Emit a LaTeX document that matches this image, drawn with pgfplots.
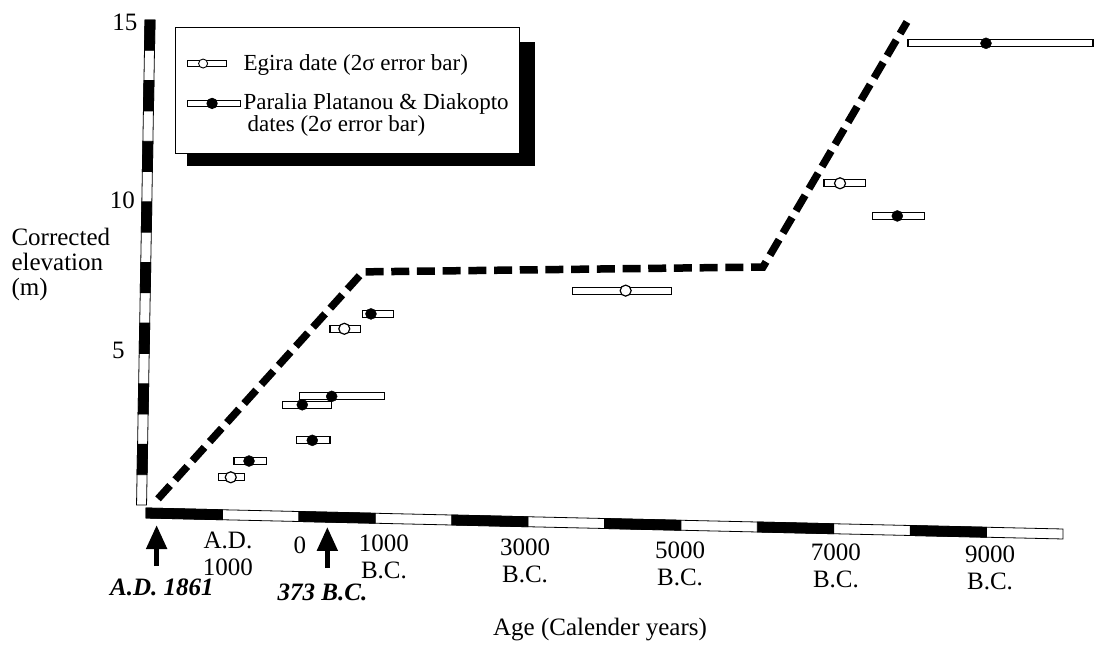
\documentclass[border=0pt]{standalone}
\usepackage{pgfplots}
\pgfplotsset{compat=1.18}
\usepackage{fontspec}
\setmainfont{Liberation Serif}
\usetikzlibrary{arrows.meta}
\newcommand{\lbl}{\fontsize{25}{27}\selectfont}
\newcommand{\ylb}{\fontsize{25}{25}\selectfont}
\newcommand{\lgd}{\fontsize{23}{19}\selectfont}
\begin{document}
\begin{tikzpicture}
\begin{axis}[
  scale only axis, width=955.2pt, height=507.63pt,
  at={(138.36pt,123.83pt)}, anchor=south west,
  xmin=-2100, xmax=10400, ymin=-0.5, ymax=15.2,
  hide axis, clip=false,
  legend cell align=left,
  legend style={at={(0.0384,0.9736)}, anchor=north west, draw=black, line width=1.2pt,
    fill=white, inner xsep=11pt, inner ysep=21pt, row sep=21pt, column sep=3pt,
    font=\lgd, cells={anchor=west}, nodes={inner sep=0pt, align=left}},
]
% ---- legend shadow (solid black box offset behind the legend)
\fill[black] (rel axis cs:0.0509,0.9440) rectangle (rel axis cs:0.4152,0.6997);
% ---- y-axis bar (alternating segments, slightly tilted as in the scan)
\addplot[forget plot, draw=black, fill=white, line width=0.8pt] coordinates {(-2013,15) (-1882,15) (-1993,0) (-2124,0)} -- cycle;
\addplot[forget plot, draw=black, fill=black, line width=0.8pt] coordinates {(-2019.9,14.0625) (-1888.9,14.0625) (-1882,15) (-2013,15)} -- cycle;
\addplot[forget plot, draw=black, fill=black, line width=0.8pt] coordinates {(-2033.8,12.1875) (-1902.8,12.1875) (-1895.9,13.125) (-2026.9,13.125)} -- cycle;
\addplot[forget plot, draw=black, fill=black, line width=0.8pt] coordinates {(-2047.7,10.3125) (-1916.7,10.3125) (-1909.75,11.25) (-2040.75,11.25)} -- cycle;
\addplot[forget plot, draw=black, fill=black, line width=0.8pt] coordinates {(-2061.6,8.4375) (-1930.6,8.4375) (-1923.6,9.375) (-2054.6,9.375)} -- cycle;
\addplot[forget plot, draw=black, fill=black, line width=0.8pt] coordinates {(-2075.4,6.5625) (-1944.4,6.5625) (-1937.5,7.5) (-2068.5,7.5)} -- cycle;
\addplot[forget plot, draw=black, fill=black, line width=0.8pt] coordinates {(-2089.3,4.6875) (-1958.3,4.6875) (-1951.4,5.625) (-2082.4,5.625)} -- cycle;
\addplot[forget plot, draw=black, fill=black, line width=0.8pt] coordinates {(-2103.2,2.8125) (-1972.2,2.8125) (-1965.25,3.75) (-2096.25,3.75)} -- cycle;
\addplot[forget plot, draw=black, fill=black, line width=0.8pt] coordinates {(-2117.1,0.9375) (-1986.1,0.9375) (-1979.1,1.875) (-2110.1,1.875)} -- cycle;
% ---- x-axis bar
\addplot[forget plot, draw=black, fill=white, line width=0.8pt] coordinates {(-2000,-0.093) (10000,-0.742) (10000,-1.051) (-2000,-0.402)} -- cycle;
\addplot[forget plot, draw=black, fill=black, line width=0.8pt] coordinates {(-2000,-0.093) (-1000,-0.147) (-1000,-0.456) (-2000,-0.402)} -- cycle;
\addplot[forget plot, draw=black, fill=black, line width=0.8pt] coordinates {(0,-0.201) (1000,-0.255) (1000,-0.564) (0,-0.510)} -- cycle;
\addplot[forget plot, draw=black, fill=black, line width=0.8pt] coordinates {(2000,-0.309) (3000,-0.364) (3000,-0.673) (2000,-0.618)} -- cycle;
\addplot[forget plot, draw=black, fill=black, line width=0.8pt] coordinates {(4000,-0.418) (5000,-0.472) (5000,-0.781) (4000,-0.727)} -- cycle;
\addplot[forget plot, draw=black, fill=black, line width=0.8pt] coordinates {(6000,-0.526) (7000,-0.580) (7000,-0.889) (6000,-0.835)} -- cycle;
\addplot[forget plot, draw=black, fill=black, line width=0.8pt] coordinates {(8000,-0.634) (9000,-0.688) (9000,-0.997) (8000,-0.943)} -- cycle;
% ---- dashed uplift curve
\addplot[forget plot, black, line width=7.5pt, dash pattern=on 18pt off 7.7pt] coordinates {(-1843,0.19) (840,7.21) (6074,7.36) (7958,14.94)};
% ---- 2-sigma error bars (rectangles)
\addplot[forget plot, draw=black, fill=white, line width=1.2pt] coordinates {(-1054,0.749) (-714,0.749) (-714,0.965) (-1054,0.965)} -- cycle;
\addplot[forget plot, draw=black, fill=white, line width=1.2pt] coordinates {(408,5.342) (804,5.342) (804,5.558) (408,5.558)} -- cycle;
\addplot[forget plot, draw=black, fill=white, line width=1.2pt] coordinates {(3584,6.522) (4880,6.522) (4880,6.738) (3584,6.738)} -- cycle;
\addplot[forget plot, draw=black, fill=white, line width=1.2pt] coordinates {(6872,9.842) (7418,9.842) (7418,10.058) (6872,10.058)} -- cycle;
\addplot[forget plot, draw=black, fill=white, line width=1.2pt] coordinates {(-848,1.252) (-420,1.252) (-420,1.468) (-848,1.468)} -- cycle;
\addplot[forget plot, draw=black, fill=white, line width=1.2pt] coordinates {(-28,1.892) (408,1.892) (408,2.108) (-28,2.108)} -- cycle;
\addplot[forget plot, draw=black, fill=white, line width=1.2pt] coordinates {(-216,2.992) (430,2.992) (430,3.208) (-216,3.208)} -- cycle;
\addplot[forget plot, draw=black, fill=white, line width=1.2pt] coordinates {(6,3.252) (1118,3.252) (1118,3.468) (6,3.468)} -- cycle;
\addplot[forget plot, draw=black, fill=white, line width=1.2pt] coordinates {(831,5.802) (1241,5.802) (1241,6.018) (831,6.018)} -- cycle;
\addplot[forget plot, draw=black, fill=white, line width=1.2pt] coordinates {(7510,8.832) (8190,8.832) (8190,9.048) (7510,9.048)} -- cycle;
\addplot[forget plot, draw=black, fill=white, line width=1.2pt] coordinates {(7972,14.172) (10392,14.172) (10392,14.388) (7972,14.388)} -- cycle;
% ---- central dates
\addplot[only marks, mark=*, mark size=5.5pt, mark options={draw=black, fill=white, line width=1.2pt},
  legend image code/.code={
    \path[draw=none] (0pt,-5pt) -- (0pt,15pt);
    \draw[line width=0.9pt, fill=white] (0pt,-3pt) rectangle (39pt,3pt);
    \draw[line width=0.9pt, fill=white] (16pt,0pt) circle (4.5pt);}]
  coordinates {(-891,0.857) (595,5.45) (4277,6.63) (7082,9.95)};
\addlegendentry{Egira date (2σ error bar)}
\addplot[only marks, mark=*, mark size=5.5pt, mark options={draw=black, fill=black},
  legend image code/.code={
    \draw[line width=0.9pt, fill=white] (0pt,6.5pt) rectangle (53pt,12.5pt);
    \fill[black] (25pt,9.5pt) circle (5pt);}]
  coordinates {(-652,1.36) (176,2.00) (45,3.10) (430,3.36) (944,5.91) (7832,8.94) (8992,14.28)};
\addlegendentry{Paralia Platanou \& Diakopto\\\hspace*{4pt}dates (2σ error bar)}
% ---- arrows marking A.D. 1861 and 373 B.C.
\addplot[forget plot, black, line width=5pt, -{Triangle[width=20pt,length=24pt]}] coordinates {(-1861,-1.89) (-1861,-0.62)};
\addplot[forget plot, black, line width=5pt, -{Triangle[width=20pt,length=24pt]}] coordinates {(373,-1.95) (373,-0.68)};
% ---- text
\node[font=\lbl\bfseries\itshape] at (axis cs:-1791,-2.536) {A.D. 1861};
\node[font=\lbl\bfseries\itshape] at (axis cs:310,-2.691) {373 B.C.};
\node[font=\lbl] at (axis cs:3941,-3.866) {Age (Calender years)};
\node[font=\ylb, align=left, anchor=west] at (axis cs:-3806,7.45) {Corrected\\elevation\\(m)};
\node[font=\lbl] at (axis cs:-2275,14.94) {15};
\node[font=\lbl] at (axis cs:-2308,9.43) {10};
\node[font=\lbl] at (axis cs:-2360,4.79) {5};
\node[font=\lbl, align=center, anchor=north, inner sep=0pt] at (axis cs:-927,-0.835) {A.D.\\1000};
\node[font=\lbl, anchor=north, inner sep=0pt] at (axis cs:15,-0.990) {0};
\node[font=\lbl, align=center, anchor=north, inner sep=0pt] at (axis cs:1114,-0.928) {1000\\B.C.};
\node[font=\lbl, align=center, anchor=north, inner sep=0pt] at (axis cs:2960,-1.052) {3000\\B.C.};
\node[font=\lbl, align=center, anchor=north, inner sep=0pt] at (axis cs:4988,-1.144) {5000\\B.C.};
\node[font=\lbl, align=center, anchor=north, inner sep=0pt] at (axis cs:7029,-1.206) {7000\\B.C.};
\node[font=\lbl, align=center, anchor=north, inner sep=0pt] at (axis cs:9045,-1.268) {9000\\B.C.};
\end{axis}
\pgfresetboundingbox
\path (0,0) rectangle (1094pt,645pt);
\end{tikzpicture}
\end{document}
